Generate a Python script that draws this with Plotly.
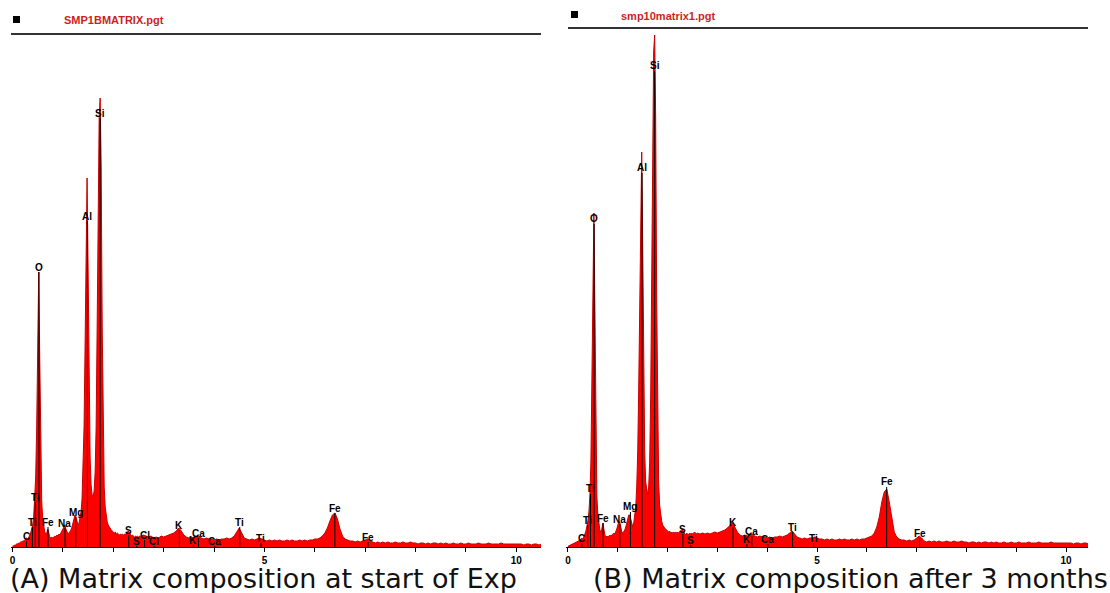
import numpy as np
import plotly.graph_objects as go

W, H = 1110, 593

# ---------------- data ----------------
# channel energies (keV): fine channels 0.00-2.58 (step 0.02), coarse 2.60-10.55 (step 0.05)
energy_low = np.round(np.arange(130) * 0.02, 2)
energy_high = np.round(2.60 + np.arange(160) * 0.05, 2)
energy = np.concatenate([energy_low, energy_high])

# Spectrum A - matrix at start of experiment (counts, arbitrary units)
counts_A_low = [
    1, 1, 2, 2, 3, 3, 4, 4, 5, 5,
    6, 6, 7, 8, 9, 8, 9, 12, 14, 18,
    22, 30, 45, 70, 120, 200, 275, 190, 90, 45,
    28, 20, 15, 13, 14, 18, 13, 10, 9, 10,
    9, 10, 11, 10, 12, 11, 13, 12, 14, 16,
    18, 21, 22, 18, 14, 13, 14, 15, 17, 20,
    25, 30, 32, 30, 24, 22, 24, 28, 35, 48,
    75, 120, 200, 300, 369, 280, 160, 90, 62, 52,
    50, 56, 75, 120, 220, 350, 430, 449, 380, 220,
    110, 60, 40, 30, 25, 22, 20, 18, 17, 16,
    15, 14, 15, 13, 14, 13, 12, 13, 12, 13,
    12, 13, 12, 14, 15, 16, 14, 12, 11, 12,
    11, 10, 11, 10, 11, 10, 11, 10, 11, 12,
]
counts_A_high = [
    12, 11, 10, 11, 9, 10, 9, 11, 10, 11,
    12, 13, 14, 16, 19, 16, 12, 10, 9, 10,
    9, 10, 11, 9, 8, 9, 8, 8, 7, 8,
    7, 8, 8, 9, 8, 9, 11, 15, 19, 14,
    9, 8, 7, 8, 7, 8, 9, 8, 7, 6,
    7, 6, 7, 6, 7, 6, 6, 7, 6, 7,
    6, 6, 7, 6, 7, 6, 7, 7, 8, 8,
    9, 11, 14, 19, 26, 32, 34, 28, 18, 11,
    8, 7, 6, 6, 5, 6, 5, 6, 7, 8,
    7, 5, 4, 5, 4, 5, 4, 5, 4, 4,
    5, 4, 4, 5, 4, 4, 5, 4, 4, 3,
    4, 4, 3, 4, 3, 4, 4, 3, 4, 3,
    4, 3, 3, 4, 3, 3, 4, 3, 3, 4,
    3, 3, 3, 4, 3, 3, 3, 4, 3, 3,
    3, 3, 4, 3, 3, 3, 3, 3, 3, 3,
    3, 2, 3, 3, 2, 3, 3, 2, 3, 3,
]

# Spectrum B - matrix after 3 months
counts_B_low = [
    1, 1, 2, 2, 3, 3, 4, 4, 5, 5,
    6, 6, 7, 8, 9, 8, 10, 13, 16, 20,
    26, 35, 52, 85, 150, 250, 334, 240, 110, 50,
    32, 22, 17, 15, 18, 24, 16, 12, 10, 11,
    10, 11, 12, 11, 12, 12, 14, 13, 15, 18,
    22, 25, 25, 20, 15, 14, 15, 17, 20, 24,
    28, 32, 32, 28, 22, 20, 24, 30, 40, 60,
    95, 160, 260, 350, 395, 300, 170, 95, 65, 55,
    52, 60, 85, 150, 280, 420, 495, 512, 430, 250,
    120, 65, 42, 32, 26, 22, 20, 19, 18, 17,
    16, 15, 16, 14, 15, 14, 15, 14, 15, 14,
    15, 14, 15, 16, 17, 18, 15, 13, 12, 14,
    13, 12, 14, 13, 14, 13, 14, 15, 14, 13,
]
counts_B_high = [
    14, 13, 14, 13, 14, 13, 14, 15, 14, 15,
    16, 17, 19, 22, 24, 20, 15, 12, 11, 12,
    11, 12, 13, 11, 10, 11, 10, 10, 9, 10,
    9, 10, 10, 11, 10, 11, 12, 14, 16, 13,
    10, 9, 8, 9, 8, 9, 9, 10, 9, 8,
    8, 7, 8, 7, 8, 7, 7, 8, 7, 8,
    7, 7, 8, 7, 8, 7, 8, 8, 9, 10,
    11, 14, 20, 30, 45, 55, 58, 45, 28, 15,
    10, 8, 7, 7, 6, 7, 6, 7, 9, 11,
    9, 6, 5, 6, 5, 6, 5, 6, 5, 5,
    6, 5, 5, 6, 5, 5, 6, 5, 5, 4,
    5, 5, 4, 5, 4, 5, 5, 4, 5, 4,
    5, 4, 4, 5, 4, 4, 5, 4, 4, 5,
    4, 4, 4, 5, 4, 4, 4, 5, 4, 4,
    4, 4, 5, 4, 4, 4, 4, 4, 4, 4,
    4, 3, 4, 4, 3, 4, 4, 3, 4, 4,
]

counts_A = counts_A_low + counts_A_high
counts_B = counts_B_low + counts_B_high

# element line labels
labels_A = ["C", "Ti", "Ti", "O", "Fe", "Na", "Mg", "Al", "Si", "S", "S", "Cl", "Cl",
            "K", "K", "Ca", "Ca", "Ti", "Ti", "Fe", "Fe"]
lines_A = [0.277, 0.395, 0.452, 0.525, 0.705, 1.041, 1.254, 1.487, 1.740, 2.307, 2.464,
           2.622, 2.815, 3.313, 3.590, 3.691, 4.013, 4.510, 4.931, 6.398, 7.057]
label_h_A = [11, 25, 50, 280, 25, 24, 35, 331, 434, 17, 6, 12, 6, 22, 7, 14, 6, 25, 9, 39, 10]

labels_B = ["C", "Ti", "Ti", "O", "Fe", "Na", "Mg", "Al", "Si", "S", "S",
            "K", "K", "Ca", "Ca", "Ti", "Ti", "Fe", "Fe"]
lines_B = [0.277, 0.395, 0.452, 0.525, 0.705, 1.041, 1.254, 1.487, 1.740, 2.307, 2.464,
           3.313, 3.590, 3.691, 4.013, 4.510, 4.931, 6.398, 7.057]
label_h_B = [9, 27, 58, 328, 29, 28, 40, 379, 481, 18, 7, 25, 8, 16, 8, 20, 9, 65, 14]

tick_vals = list(range(11))
tick_text = ["0", "", "", "", "", "5", "", "", "", "", "10"]

file_A = "SMP1BMATRIX.pgt"
file_B = "smp10matrix1.pgt"
caption_A = "(A) Matrix composition at start of Exp"
caption_B = "(B) Matrix composition after 3 months"

# ---------------- helpers ----------------
def px(x):
    return x / W

def py(y):
    return (H - y) / H

RED_FILL = "#ff0000"
RED_LINE = "#c80000"

fig = go.Figure()

def add_panel(counts, lines, heights, labels, xa, ya):
    fig.add_trace(go.Scatter(
        x=energy, y=counts, xaxis=xa, yaxis=ya, mode="lines",
        line=dict(color=RED_LINE, width=1), fill="tozeroy", fillcolor=RED_FILL,
        hoverinfo="skip", showlegend=False))
    lx, ly = [], []
    for e, h in zip(lines, heights):
        lx += [e, e, None]
        ly += [0, max(h - 5, 0), None]
    fig.add_trace(go.Scatter(
        x=lx, y=ly, xaxis=xa, yaxis=ya, mode="lines",
        line=dict(color="black", width=1), hoverinfo="skip", showlegend=False))
    for e, h, t in zip(lines, heights, labels):
        fig.add_annotation(
            x=e, y=h, xref=xa, yref=ya, text=t, showarrow=False,
            xanchor="center", yanchor="middle",
            font=dict(family="Liberation Sans", size=10, color="black", weight="bold"))

add_panel(counts_A, lines_A, label_h_A, labels_A, "x", "y")
add_panel(counts_B, lines_B, label_h_B, labels_B, "x2", "y2")

axis_common = dict(
    showline=True, linecolor="black", linewidth=1,
    ticks="outside", ticklen=4, tickwidth=1, tickcolor="black",
    tickvals=tick_vals, ticktext=tick_text,
    tickfont=dict(family="Liberation Sans", size=10, color="black", weight="bold"),
    showgrid=False, zeroline=False, fixedrange=True,
)

fig.update_layout(
    width=W, height=H,
    margin=dict(l=0, r=0, t=0, b=0),
    paper_bgcolor="white", plot_bgcolor="white",
    showlegend=False,
    xaxis=dict(domain=[px(11), px(541)], range=[-0.03, 10.49], anchor="y", **axis_common),
    yaxis=dict(domain=[py(547), py(34)], range=[0, 513], visible=False, fixedrange=True),
    xaxis2=dict(domain=[px(566), px(1088)], range=[-0.04, 10.44], anchor="y2", **axis_common),
    yaxis2=dict(domain=[py(547), py(28)], range=[0, 519], visible=False, fixedrange=True),
)

shapes = [
    dict(type="line", xref="paper", yref="paper", x0=px(11), x1=px(541), y0=py(34), y1=py(34),
         line=dict(color="#333333", width=2)),
    dict(type="line", xref="paper", yref="paper", x0=px(568), x1=px(1088), y0=py(28), y1=py(28),
         line=dict(color="#333333", width=2)),
    dict(type="rect", xref="paper", yref="paper", x0=px(13), x1=px(20), y0=py(23), y1=py(16),
         fillcolor="black", line=dict(width=0)),
    dict(type="rect", xref="paper", yref="paper", x0=px(571), x1=px(578), y0=py(18), y1=py(11),
         fillcolor="black", line=dict(width=0)),
]
fig.update_layout(shapes=shapes)

fig.add_annotation(x=px(62), y=py(20.5), xref="paper", yref="paper", text=file_A,
                   showarrow=False, xanchor="left", yanchor="middle",
                   font=dict(family="Liberation Sans", size=11, color="#cc1f1f", weight="bold"))
fig.add_annotation(x=px(619), y=py(16), xref="paper", yref="paper", text=file_B,
                   showarrow=False, xanchor="left", yanchor="middle",
                   font=dict(family="Liberation Sans", size=11, color="#cc1f1f", weight="bold"))

fig.add_annotation(x=px(8), y=py(578), xref="paper", yref="paper", text=caption_A,
                   showarrow=False, xanchor="left", yanchor="middle",
                   font=dict(family="DejaVu Sans", size=27, color="#111111"))
fig.add_annotation(x=px(591), y=py(578), xref="paper", yref="paper", text=caption_B,
                   showarrow=False, xanchor="left", yanchor="middle",
                   font=dict(family="DejaVu Sans", size=27, color="#111111"))

fig.write_html("out.html")
